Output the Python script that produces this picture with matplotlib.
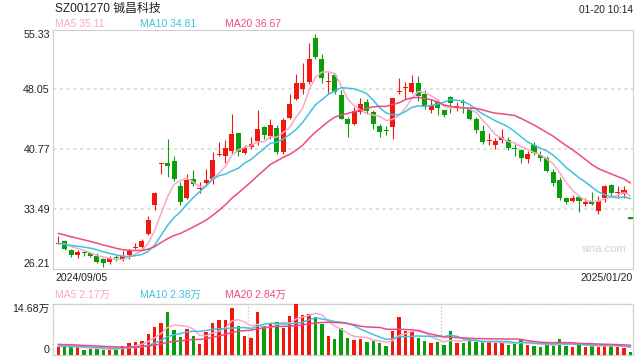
import matplotlib
matplotlib.use('Agg')
import matplotlib.pyplot as plt
import numpy as np
import pandas as pd
from matplotlib.patches import Rectangle

plt.rcParams['font.family'] = ['Liberation Sans', 'Noto Sans CJK SC', 'DejaVu Sans']

# ---------------- data ----------------
title = 'SZ001270 铖昌科技'
timestamp = '01-20 10:14'
start_label = '2024/09/05'
end_label = '2025/01/20'

opens = [29.3, 29.6, 28.55, 27.9, 28.2, 28.15, 27.8, 27.4, 27.1, 27.6,
         27.42, 27.9, 28.8, 28.9, 30.45, 34.0, 38.95, 39.05, 39.3, 36.3,
         34.8, 37.1, 35.95, 36.65, 37.2, 40.1, 39.95, 40.5, 42.7, 40.3,
         41.05, 41.75, 43.45, 42.4, 43.3, 40.4, 44.55, 46.85, 48.05, 48.95,
         54.25, 51.7, 48.95, 49.85, 47.4, 44.4, 43.8, 45.3, 46.5, 45.25,
         43.55, 43.05, 43.5, 47.75, 48.2, 47.7, 48.8, 47.45, 45.6, 46.6,
         45.55, 47.1, 45.95, 46.45, 45.7, 44.4, 43.0, 41.8, 41.25, 41.9,
         41.9, 40.9, 40.65, 39.55, 41.25, 40.1, 39.7, 38.0, 37.05, 34.85,
         34.5, 35.0, 34.1, 34.5, 33.3, 34.9, 36.4, 35.45, 35.3, 32.4]
highs = [30.2, 29.77, 28.7, 28.55, 28.45, 28.3, 28.1, 27.6, 27.75, 27.95,
         28.35, 28.65, 29.4, 29.85, 32.6, 35.6, 39.15, 42.0, 39.9, 36.8,
         37.7, 38.2, 36.8, 38.35, 40.45, 41.7, 41.85, 45.0, 42.8, 41.3,
         42.2, 45.5, 43.6, 44.4, 43.7, 44.6, 47.5, 49.95, 51.3, 53.7,
         54.8, 52.3, 50.2, 50.0, 47.95, 44.75, 45.9, 46.95, 46.9, 45.6,
         43.9, 43.6, 47.05, 49.45, 49.0, 49.85, 49.65, 47.95, 46.9, 46.9,
         45.6, 47.25, 46.5, 46.9, 45.9, 44.75, 43.7, 42.8, 42.1, 43.2,
         42.3, 41.45, 40.85, 40.5, 41.6, 40.55, 39.95, 38.35, 37.35, 35.0,
         35.2, 35.2, 34.9, 35.6, 35.1, 36.45, 36.5, 36.25, 36.3, 32.4]
lows = [29.2, 28.55, 27.7, 27.5, 27.85, 27.7, 27.0, 26.5, 26.85, 27.2,
        27.15, 27.4, 28.7, 28.8, 30.3, 33.4, 37.8, 37.35, 36.9, 34.0,
        34.7, 36.3, 35.5, 36.4, 36.5, 39.9, 39.1, 40.3, 40.0, 40.2,
        40.85, 41.3, 42.0, 42.0, 40.2, 40.15, 44.4, 46.7, 47.5, 48.75,
        51.7, 48.85, 47.65, 47.5, 44.4, 42.25, 43.75, 45.0, 45.2, 43.2,
        42.2, 42.45, 42.05, 47.45, 46.85, 47.65, 46.6, 45.7, 45.2, 44.9,
        44.75, 45.2, 45.4, 45.15, 44.3, 42.7, 41.4, 41.25, 40.85, 41.55,
        40.7, 39.95, 39.15, 39.05, 40.05, 39.35, 38.0, 36.3, 34.6, 34.1,
        34.4, 33.2, 33.9, 33.95, 32.85, 34.4, 35.1, 34.9, 34.9, 32.35]
closes = [29.35, 28.7, 27.9, 28.3, 28.1, 27.85, 27.1, 26.95, 27.5, 27.5,
          27.75, 28.45, 28.85, 29.6, 32.15, 35.4, 39.05, 38.75, 37.15, 34.4,
          37.0, 36.6, 36.05, 37.0, 39.45, 40.15, 40.9, 42.6, 40.4, 40.9,
          41.35, 43.2, 42.45, 43.7, 40.45, 44.3, 46.25, 48.8, 48.8, 51.8,
          51.95, 49.4, 49.0, 47.7, 44.5, 43.8, 45.4, 46.3, 45.4, 43.8,
          42.9, 42.95, 46.95, 47.8, 48.3, 48.8, 47.25, 45.95, 46.1, 45.75,
          44.95, 46.35, 46.05, 46.4, 44.4, 43.1, 41.6, 41.9, 41.75, 42.3,
          40.95, 40.75, 39.7, 40.15, 40.3, 39.65, 38.15, 36.65, 34.8, 34.4,
          34.8, 34.5, 34.35, 34.1, 34.5, 36.3, 35.45, 35.55, 35.8, 32.35]
# volumes in 万 (10k shares)
volumes = [2.3, 2.5, 2.3, 2.3, 1.44, 1.73, 1.73, 1.44, 1.92, 1.8,
           2.5, 3.36, 3.74, 3.94, 5.95, 8.25, 9.4, 12.38, 7.2, 5.18,
           7.39, 5.47, 3.17, 6.62, 9.21, 10.07, 10.07, 13.53, 8.35, 5.47,
           4.89, 12.38, 8.44, 9.02, 9.6, 7.86, 11.2, 14.68, 11.7, 11.9,
           10.94, 8.92, 5.47, 4.6, 7.68, 4.89, 4.32, 4.6, 3.84, 4.03,
           3.45, 2.59, 7.0, 10.94, 6.91, 6.72, 4.89, 4.03, 3.45, 3.74,
           2.88, 6.91, 3.45, 3.45, 4.32, 3.74, 3.74, 3.74, 3.45, 3.45,
           2.95, 3.5, 4.4, 2.95, 2.7, 2.4, 2.95, 2.95, 4.7, 2.7,
           2.45, 3.0, 2.45, 2.7, 2.45, 2.7, 2.7, 2.45, 2.15, 0.9]
# closes / volumes before the visible window (needed for moving averages)
prior_closes = [32.6, 32.3, 32.0, 31.9, 31.6, 31.5, 31.4, 31.3, 31.5, 31.4,
                29.8, 29.5, 29.2, 29.1, 29.2, 29.0, 29.4, 29.5, 29.3]
prior_volumes = [3.9, 3.2, 4.1, 3.5, 3.0, 3.8, 3.3, 3.6, 3.4, 3.8,
                 2.9, 2.6, 2.8, 2.5, 2.7, 2.4, 2.7, 2.6, 2.5]

price_ticks = [55.33, 48.05, 40.77, 33.49, 26.21]
price_tick_labels = ['55.33', '48.05', '40.77', '33.49', '26.21']
vol_ticks = [14.68, 0]
vol_tick_labels = ['14.68万', '0']
ma_periods = [5, 10, 20]
ma_labels = ['MA5 35.11', 'MA10 34.81', 'MA20 36.67']
vol_ma_labels = ['MA5 2.17万', 'MA10 2.38万', 'MA20 2.84万']
watermark = 'sina.com'

# ---------------- style ----------------
RED = '#f2180e'
GREEN = '#0a9e0a'
MA_COLORS = ['#f9a9c8', '#3ec3e0', '#ee4a84']
SPINE = '#cfcfcf'
GRID = '#dadada'
TXT = '#222222'

W, H = 640, 360
fig = plt.figure(figsize=(6.4, 3.6), dpi=100)
left_px, right_px = 53.3, 633.0
ax = fig.add_axes([left_px / W, 1 - 269 / H, (right_px - left_px) / W, (269 - 29.5) / H])
axv = fig.add_axes([left_px / W, 1 - 355 / H, (right_px - left_px) / W, (355 - 304.3) / H])

n = len(closes)
x = np.arange(n)
o = np.array(opens); h = np.array(highs); l = np.array(lows); c = np.array(closes)
up = c >= o
colors = [RED if u else GREEN for u in up]

# candles
body_w = 0.78
for i in range(n):
    ax.vlines(x[i], l[i], h[i], color=colors[i], lw=0.8, zorder=3)
    bottom = min(o[i], c[i])
    height = max(abs(c[i] - o[i]), 0.13)
    ax.add_patch(Rectangle((x[i] - body_w / 2, bottom), body_w, height,
                           facecolor=colors[i], edgecolor='none', zorder=4))

# moving averages of price
all_c = pd.Series(prior_closes + closes)
for p, col in zip(ma_periods, MA_COLORS):
    ma = all_c.rolling(p).mean().iloc[len(prior_closes):].to_numpy()
    ax.plot(x, ma, color=col, lw=1.1, zorder=5, solid_capstyle='round')

ax.set_xlim(-0.78, 89.4)
ax.set_ylim(price_ticks[-1], price_ticks[0])
for t in price_ticks[1:-1]:
    ax.axhline(t, color=GRID, lw=1.1, dashes=(2.2, 2.2), zorder=1)
ax.set_yticks(price_ticks)
ax.set_yticklabels(price_tick_labels)
ax.set_xticks([])
ax.tick_params(axis='y', length=0, pad=2.5, labelsize=7.7, labelcolor=TXT)
ylabs = ax.get_yticklabels()
ylabs[0].set_va('top')
ylabs[-1].set_va('bottom')
for s in ax.spines.values():
    s.set_color(SPINE)
    s.set_linewidth(0.8)
ax.text((582 - left_px) / (right_px - left_px), 0.085, watermark, transform=ax.transAxes,
        color='#d2d2d2', fontsize=8, va='center', ha='left', zorder=6)

# volume
vol = np.array(volumes)
axv.bar(x, vol, width=0.52, color=colors, zorder=3)
all_v = pd.Series(prior_volumes + volumes)
for p, col in zip(ma_periods, MA_COLORS):
    vma = all_v.rolling(p).mean().iloc[len(prior_volumes):].to_numpy()
    axv.plot(x, vma, color=col, lw=1.1, zorder=4)
axv.set_xlim(-0.78, 89.4)
axv.set_ylim(0, vol_ticks[0])
axv.set_yticks(vol_ticks)
axv.set_yticklabels(vol_tick_labels)
axv.set_xticks([])
axv.tick_params(axis='y', length=0, pad=2.5, labelsize=7.7, labelcolor=TXT)
vlabs = axv.get_yticklabels()
vlabs[0].set_va('top')
vlabs[1].set_va('bottom')
for s in axv.spines.values():
    s.set_color(SPINE)
    s.set_linewidth(1.0)
    s.set_linestyle((0, (1.2, 1.2)))
for xv in [29.5, 59.5]:
    axv.axvline(xv, color=SPINE, lw=1.0, dashes=(1.2, 1.2), zorder=1)

# header texts
def ft(xp, yp, s, **kw):
    fig.text(xp / W, 1 - yp / H, s, **kw)

ft(55, 9, title, fontsize=8.6, va='center', ha='left', color=TXT)
ft(633, 10, timestamp, fontsize=7.3, va='center', ha='right', color=TXT)
for xp, lab, col in zip([55, 140, 225], ma_labels, MA_COLORS):
    ft(xp, 24, lab, fontsize=7.5, va='center', ha='left', color=col)
ft(55, 278, start_label, fontsize=7.5, va='center', ha='left', color=TXT)
ft(633, 278, end_label, fontsize=7.5, va='center', ha='right', color=TXT)
for xp, lab, col in zip([55, 140, 225], vol_ma_labels, MA_COLORS):
    ft(xp, 295, lab, fontsize=7.5, va='center', ha='left', color=col)

fig.savefig('out.png', dpi=100)
